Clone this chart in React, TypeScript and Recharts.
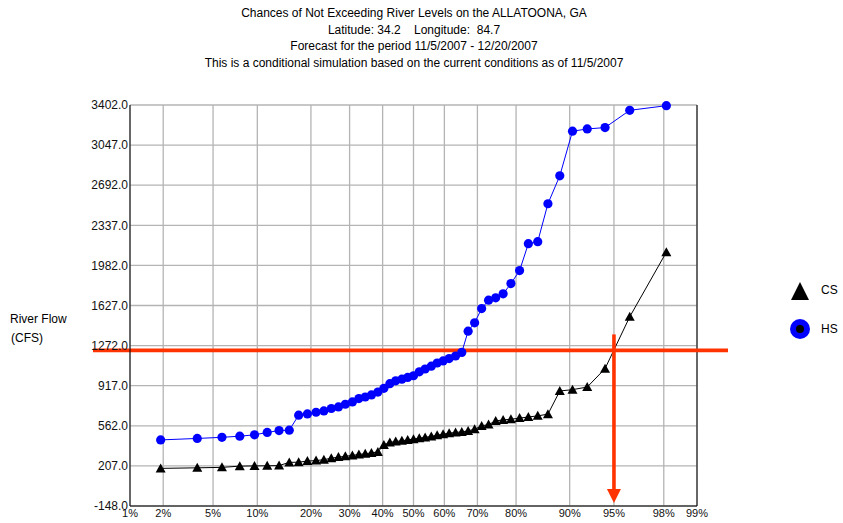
import React from "react";
import { CartesianGrid, Legend, Line, LineChart, ReferenceLine, XAxis, YAxis } from "recharts";

// plotting positions (% chance of not exceeding) shared by both series
const PCTS = [
  1.9, 3.8, 5.8, 7.7, 9.6, 11.5, 13.5, 15.4, 17.3, 19.2, 21.2, 23.1, 25.0, 26.9, 28.8, 30.8, 32.7,
  34.6, 36.5, 38.5, 40.4, 42.3, 44.2, 46.2, 48.1, 50.0, 51.9, 53.8, 55.8, 57.7, 59.6, 61.5, 63.5,
  65.4, 67.3, 69.2, 71.2, 73.1, 75.0, 76.9, 78.8, 80.8, 82.7, 84.6, 86.5, 88.5, 90.4, 92.3, 94.2,
  96.2, 98.1,
];
const CS = [
  185, 190, 194, 205, 207, 208, 210, 238, 240, 250, 254, 262, 275, 285, 292, 300, 308, 315, 322,
  331, 393, 414, 423, 429, 437, 444, 452, 459, 468, 479, 488, 497, 503, 508, 517, 532, 561, 573,
  605, 614, 620, 630, 640, 650, 665, 870, 882, 905, 1068, 1527, 2099,
];
const HS = [
  437, 450, 460, 470, 482, 503, 520, 523, 656, 667, 682, 694, 715, 729, 753, 773, 803, 817, 835,
  861, 894, 935, 960, 975, 990, 1005, 1040, 1065, 1090, 1118, 1136, 1157, 1180, 1212, 1400, 1474,
  1600, 1674, 1695, 1730, 1821, 1936, 2174, 2192, 2528, 2775, 3170, 3190, 3202, 3355, 3396,
];
const X_TICK_PCTS = [1, 2, 5, 10, 20, 30, 40, 50, 60, 70, 80, 90, 95, 98, 99];
const Y_TICKS = [-148, 207, 562, 917, 1272, 1627, 1982, 2337, 2692, 3047, 3402];
const TITLE = [
  "Chances of Not Exceeding River Levels on the ALLATOONA, GA",
  "Latitude: 34.2    Longitude:  84.7",
  "Forecast for the period 11/5/2007 - 12/20/2007",
  "This is a conditional simulation based on the current conditions as of 11/5/2007",
];
const THRESHOLD = 1230;
const ARROW_PCT = 95;
const ARROW_FROM = 1371;
const ARROW_TO = -113;

const FONT = "'Liberation Sans', Arial, sans-serif";
const RED = "#ff3300";

// inverse normal cdf (Acklam) -> normal probability paper
function probit(p: number) {
  const a = [-39.69683028665376, 220.9460984245205, -275.9285104469687, 138.357751867269, -30.66479806614716, 2.506628277459239];
  const b = [-54.47609879822406, 161.5858368580409, -155.6989798598866, 66.80131188771972, -13.28068155288572];
  const c = [-0.007784894002430293, -0.3223964580411365, -2.400758277161838, -2.549732539343734, 4.374664141464968, 2.938163982698783];
  const d = [0.007784695709041462, 0.3224671290700398, 2.445134137142996, 3.754408661907416];
  const lo = 0.02425;
  if (p < lo) {
    const q = Math.sqrt(-2 * Math.log(p));
    return (((((c[0] * q + c[1]) * q + c[2]) * q + c[3]) * q + c[4]) * q + c[5]) / ((((d[0] * q + d[1]) * q + d[2]) * q + d[3]) * q + 1);
  }
  if (p > 1 - lo) return -probit(1 - p);
  const q = p - 0.5, r = q * q;
  return ((((((a[0] * r + a[1]) * r + a[2]) * r + a[3]) * r + a[4]) * r + a[5]) * q) / (((((b[0] * r + b[1]) * r + b[2]) * r + b[3]) * r + b[4]) * r + 1);
}

const data = PCTS.map((p, i) => ({ z: probit(p / 100), cs: CS[i], hs: HS[i] }));
const xTicks = X_TICK_PCTS.map(p => probit(p / 100));
const fmtX = (v: number) => {
  let best = 0;
  xTicks.forEach((t, i) => { if (Math.abs(t - v) < Math.abs(xTicks[best] - v)) best = i; });
  return `${X_TICK_PCTS[best]}%`;
};

const Triangle = (props: any) => {
  const { cx, cy } = props;
  if (cx == null || cy == null) return null;
  return <polygon points={`${cx},${cy - 5} ${cx + 5},${cy + 4} ${cx - 5},${cy + 4}`} fill="#000" />;
};
const Dot = (props: any) => {
  const { cx, cy } = props;
  if (cx == null || cy == null) return null;
  return <circle cx={cx} cy={cy} r={4.6} fill="#0000ff" />;
};

const ThresholdShape = (p: any) => (
  <line x1={p.x1 - 37} y1={p.y1} x2={p.x2 + 31} y2={p.y2} stroke={RED} strokeWidth={3.6} />
);
const ArrowShape = (p: any) => (
  <g>
    <line x1={p.x1} y1={p.y1} x2={p.x2} y2={p.y2 - 10} stroke={RED} strokeWidth={3.6} />
    <polygon points={`${p.x2 - 7},${p.y2 - 13} ${p.x2 + 7},${p.y2 - 13} ${p.x2},${p.y2 + 1}`} fill={RED} />
  </g>
);

const renderLegend = () => (
  <div style={{ position: "relative", width: 60, height: 70, fontFamily: FONT, fontSize: 12, color: "#000" }}>
    <svg width={24} height={24} style={{ position: "absolute", left: 0, top: 0 }}>
      <polygon points="12,2 21,20 3,20" fill="#000" />
    </svg>
    <span style={{ position: "absolute", left: 33, top: 3 }}>CS</span>
    <svg width={24} height={24} style={{ position: "absolute", left: 0, top: 37 }}>
      <circle cx={12} cy={12} r={10} fill="#0000ff" />
      <circle cx={12} cy={12} r={4} fill="#000" />
    </svg>
    <span style={{ position: "absolute", left: 33, top: 42 }}>HS</span>
  </div>
);

export default function App() {
  return (
    <div style={{ position: "absolute", left: 0, top: 0, width: 843, height: 523, background: "#fff", fontFamily: FONT }}>
      <div style={{ position: "absolute", left: 0, width: 828, top: 5, textAlign: "center", fontSize: 12, lineHeight: "16.5px", whiteSpace: "pre", color: "#000" }}>
        {TITLE.map(t => <div key={t}>{t}</div>)}
      </div>
      <div style={{ position: "absolute", left: 10, top: 310, fontSize: 12, lineHeight: "19px", color: "#000" }}>
        <div>River Flow</div>
        <div style={{ marginLeft: 1 }}>(CFS)</div>
      </div>
      <LineChart width={843} height={523} data={data} margin={{ top: 105, right: 146, bottom: 0, left: 50 }}>
        <CartesianGrid stroke="#b4b4b4" strokeWidth={1.3} />
        <XAxis
          dataKey="z" type="number" domain={[xTicks[0], xTicks[xTicks.length - 1]]} ticks={xTicks} interval={0}
          tickFormatter={fmtX} height={17} tickSize={0} tickMargin={3} axisLine={{ stroke: "#000" }}
          tick={{ fontSize: 11, fill: "#111", fontFamily: FONT }} allowDataOverflow
        />
        <YAxis
          type="number" domain={[Y_TICKS[0], Y_TICKS[Y_TICKS.length - 1]]} ticks={Y_TICKS} interval={0}
          tickFormatter={(v: number) => v.toFixed(1)} width={80} tickSize={0} tickMargin={2}
          axisLine={{ stroke: "#000" }} tick={{ fontSize: 12, fill: "#111", fontFamily: FONT }}
        />
        <ReferenceLine x={xTicks[xTicks.length - 1]} stroke="#000" />
        <Line type="linear" dataKey="hs" name="HS" stroke="#0000ff" strokeWidth={1} dot={<Dot />} isAnimationActive={false} />
        <Line type="linear" dataKey="cs" name="CS" stroke="#000" strokeWidth={1} dot={<Triangle />} isAnimationActive={false} />
        <ReferenceLine y={THRESHOLD} shape={ThresholdShape} />
        <ReferenceLine
          segment={[{ x: probit(ARROW_PCT / 100), y: ARROW_FROM }, { x: probit(ARROW_PCT / 100), y: ARROW_TO }]}
          shape={ArrowShape}
        />
        <Legend layout="horizontal" align="center" verticalAlign="middle" content={renderLegend}
          wrapperStyle={{ left: 788, top: 280, width: 60 }} />
      </LineChart>
    </div>
  );
}
